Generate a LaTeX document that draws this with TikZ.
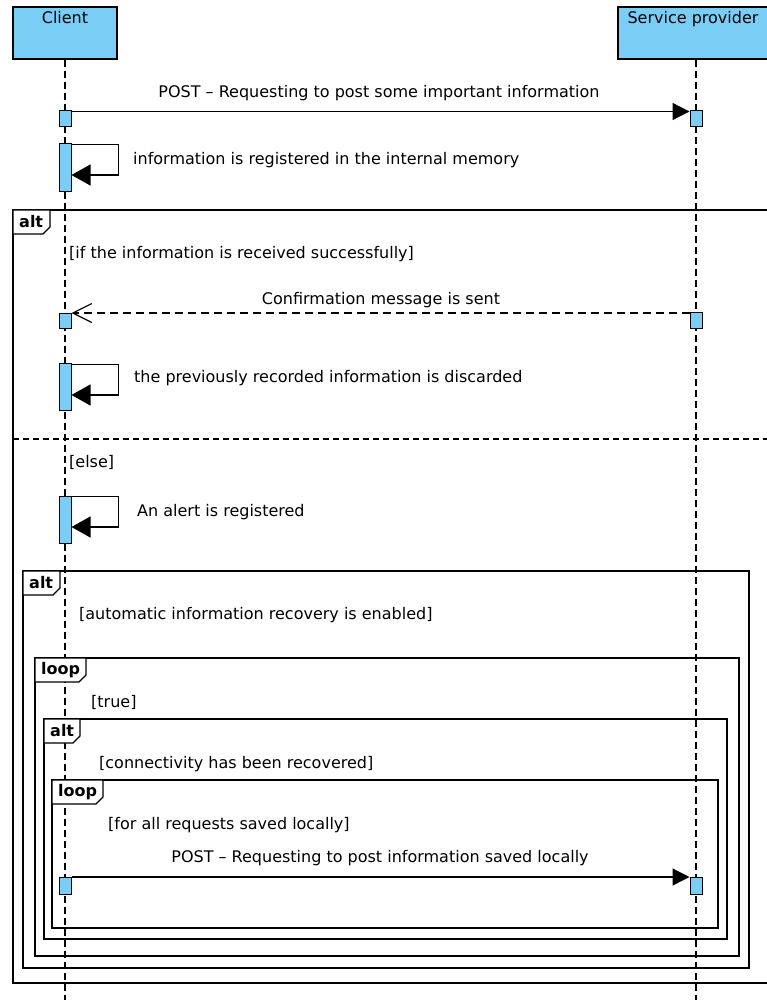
\documentclass[tikz,border=0pt]{standalone}
\usepackage{fontspec}
\setmainfont{DejaVu Sans}
\usetikzlibrary{arrows.meta,positioning}
\definecolor{actblue}{RGB}{122,206,245}

\tikzset{
  lifehead/.style={draw, line width=1.2pt, fill=actblue, inner sep=0pt},
  lifeline/.style={line width=1.2pt, dash pattern=on 7pt off 4pt},
  act/.style={draw, line width=1pt, fill=actblue, minimum width=12pt, inner sep=0pt},
  sync/.style={line width=1.2pt, -{Triangle[length=17pt,width=17pt]}},
  selfmsg/.style={line width=1.2pt, -{Triangle[length=19pt,width=21pt]}},
  reply/.style={line width=1.2pt, dash pattern=on 8pt off 5pt,
    -{Straight Barb[length=19pt,width=19pt,line width=1.2pt]}},
  frame/.style={line width=1.2pt},
  sepline/.style={line width=1.2pt, dash pattern=on 6pt off 4pt},
  msgtext/.style={inner sep=0pt, font=\fontsize{16}{19}\selectfont},
  fragname/.style={inner sep=0pt, font=\fontsize{16}{19}\selectfont\bfseries},
}

% name, left, top, right, bottom, tab width, operator
\newcommand{\umlfrag}[7]{%
  \draw[frame] (#2,#3) rectangle (#4,#5);
  \draw[frame, fill=white] (#2,#3) -- (#2,#3+24) -- (#2+#6-7,#3+24) -- (#2+#6,#3+17) -- (#2+#6,#3) -- cycle;
  \node[fragname, anchor=west] (#1) at (#2+6,#3+12) {#7};
}

\begin{document}
\begin{tikzpicture}[x=1pt, y=-1pt]
  \useasboundingbox (0,0) rectangle (767,1000);
  \clip (0,0) rectangle (767,1000);

  % lifelines
  \node[lifehead, minimum width=104pt, minimum height=52pt] (client) at (65,33) {};
  \node[msgtext, below=5pt of client.north] (clientname) {Client};
  \node[lifehead, minimum width=156pt, minimum height=52pt] (provider) at (696,33) {};
  \node[msgtext, below=5pt of provider.north, xshift=-3pt] (providername) {Service provider};
  \coordinate (clientend) at (65,1000);
  \coordinate (providerend) at (696,1000);
  \draw[lifeline] (client) -- (clientend);
  \draw[lifeline] (provider) -- (providerend);

  % combined fragments
  \umlfrag{altA}{13}{210}{790}{983}{37}{alt}
  \draw[sepline] (13,439) -- (790,439);
  \umlfrag{altB}{23}{571}{749}{968}{37}{alt}
  \umlfrag{loopA}{35}{658}{739}{956}{51}{loop}
  \umlfrag{altC}{44}{719}{727}{939}{36}{alt}
  \umlfrag{loopB}{52}{780}{718}{928}{51}{loop}

  % activations
  \node[act, minimum height=16pt] (ca1) at (65,119) {};
  \node[act, minimum height=16pt] (sa1) at (696,119) {};
  \node[act, minimum height=48pt] (ca2) at (65,168) {};
  \node[act, minimum height=15pt] (ca3) at (65,320.5) {};
  \node[act, minimum height=16pt] (sa2) at (696,320.5) {};
  \node[act, minimum height=47pt] (ca4) at (65,386.5) {};
  \node[act, minimum height=47pt] (ca5) at (65,519.5) {};
  \node[act, minimum height=17pt] (ca6) at (65,885.5) {};
  \node[act, minimum height=17pt] (sa3) at (696,885.5) {};

  % messages
  \draw[sync] ([yshift=-1pt]ca1.north east) -- ([yshift=-1pt]ca1.north east -| sa1.west);
  \node[msgtext] (m1) at (379,93) {POST \textendash{} Requesting to post some important information};

  \draw[selfmsg] ([yshift=-1pt]ca2.north east) -- ++(47,0) |- ([yshift=-7pt]ca2.east);
  \node[msgtext, anchor=west] (m2) at (133,160) {information is registered in the internal memory};

  \node[msgtext, anchor=west] (g1) at (69,254) {[if the information is received successfully]};
  \draw[reply] ([yshift=-1pt]sa2.north west) -- ([yshift=-1pt]sa2.north west -| ca3.east);
  \node[msgtext] (m3) at (381,300) {Confirmation message is sent};

  \draw[selfmsg] ([yshift=-2pt]ca4.north east) -- ++(47,0) |- ([yshift=-8.5pt]ca4.east);
  \node[msgtext, anchor=west] (m4) at (134,378) {the previously recorded information is discarded};

  \node[msgtext, anchor=west] (g2) at (69,462) {[else]};
  \draw[selfmsg] ([yshift=-1pt]ca5.north east) -- ++(47,0) |- ([yshift=-7.5pt]ca5.east);
  \node[msgtext, anchor=west] (m5) at (137,512) {An alert is registered};

  \node[msgtext, anchor=west] (g3) at (79,615) {[automatic information recovery is enabled]};
  \node[msgtext, anchor=west] (g4) at (91,702) {[true]};
  \node[msgtext, anchor=west] (g5) at (99,764) {[connectivity has been recovered]};
  \node[msgtext, anchor=west] (g6) at (108,825) {[for all requests saved locally]};

  \draw[sync] ([yshift=-0.5pt]ca6.north east) -- ([yshift=-0.5pt]ca6.north east -| sa3.west);
  \node[msgtext] (m6) at (380,858) {POST \textendash{} Requesting to post information saved locally};
\end{tikzpicture}
\end{document}
